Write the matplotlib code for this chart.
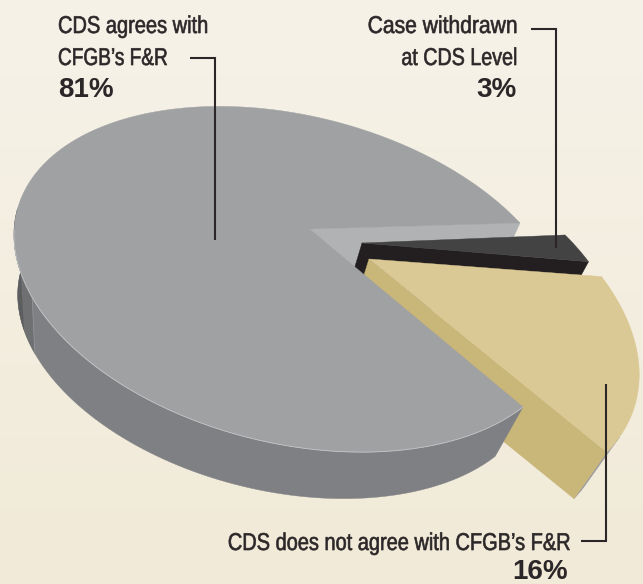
"""Case outcome split at CDS level, drawn as an exploded perspective pie."""
import numpy as np
import matplotlib
matplotlib.use("Agg")
import matplotlib.pyplot as plt
from matplotlib.patches import Polygon
from matplotlib.patheffects import AbstractPathEffect
from matplotlib.transforms import Affine2D

W, H = 643, 584

# shares in percent
share_agree = 81
share_withdrawn = 3
share_disagree = 16

label_agree = ["CDS agrees with", "CFGB\u2019s F&R"]
label_withdrawn = ["Case withdrawn", "at CDS Level"]
label_disagree = ["CDS does not agree with CFGB\u2019s F&R"]
pct_agree = "81%"
pct_withdrawn = "3%"
pct_disagree = "16%"

GAP = 360 * (share_withdrawn + share_disagree) / 100
WITHDRAWN_DEG = 360 * share_withdrawn / 100

# where the rim of the big slice lands on the canvas, for the tilt of the disc
RIM_PX = {
    GAP / 2: (520, 223),
    -GAP / 2: (523, 407),
    180 + GAP / 2: (14, 237.5),
    180 - GAP / 2: (166.5, 110),
}
VANISH = np.array([75.0, 1202.0])   # side walls run toward this point
DEPTH = 0.062

BLACK_TXT = "#2b2728"


class Squeeze(AbstractPathEffect):
    # condensed type: no narrow face installed, so narrow the glyphs around an anchor
    def __init__(self, sx, x0, weight=0.45):
        super().__init__()
        self.sx, self.x0, self.weight = sx, x0, weight

    def draw_path(self, renderer, gc, tpath, affine, rgbFace=None):
        narrow = Affine2D().translate(-self.x0, 0).scale(self.sx, 1).translate(self.x0, 0)
        gc0 = renderer.new_gc()
        gc0.copy_properties(gc)
        gc0.set_linewidth(self.weight)
        gc0.set_foreground(rgbFace)
        renderer.draw_path(gc0, tpath, affine + narrow, rgbFace)
        gc0.restore()


def fit_homography(pairs):
    a, b = [], []
    for (x, y), (u, v) in pairs:
        a.append([x, y, 1, 0, 0, 0, -u * x, -u * y])
        a.append([0, 0, 0, x, y, 1, -v * x, -v * y])
        b += [u, v]
    return np.append(np.linalg.solve(np.array(a, float), np.array(b, float)), 1).reshape(3, 3)


def circ(deg):
    t = np.radians(deg)
    return np.c_[np.cos(t), np.sin(t)]


M = fit_homography([(tuple(circ(k)[0]), v) for k, v in RIM_PX.items()])
M_inv = np.linalg.inv(M)


def project(pts, matrix=M):
    pts = np.atleast_2d(pts)
    q = np.c_[pts, np.ones(len(pts))] @ matrix.T
    return q[:, :2] / q[:, 2:]


def lower(px):
    # same outline pushed down to the underside of the disc
    return px + (VANISH - px) * DEPTH


def rim(center, radius, t1, t2, n=120):
    return project(np.asarray(center) + radius * circ(np.linspace(t1, t2, n)))


def wall(ax, px, color, z):
    ax.add_patch(Polygon(np.vstack([px, lower(px)[::-1]]), closed=True, fc=color,
                         ec=color, lw=0.3, zorder=z))


def top(ax, px, color, z):
    ax.add_patch(Polygon(px, closed=True, fc=color, ec=color, lw=0.3, zorder=z))


def leader(ax, xs, ys):
    ax.plot(xs, ys, color=BLACK_TXT, lw=1.5, solid_joinstyle="miter",
            solid_capstyle="butt", zorder=20)


def label(ax, x, y, s, ha, sx):
    ax.text(x, y, s, ha=ha, va="baseline", color=BLACK_TXT, family="Liberation Sans",
            fontsize=17.5, zorder=21, path_effects=[Squeeze(sx, x)])


fig = plt.figure(figsize=(W / 100, H / 100), dpi=100)
ax = fig.add_axes([0, 0, 1, 1])
ax.set_xlim(0, W)
ax.set_ylim(H, 0)
ax.axis("off")

# paper background, very slightly darker at the foot
shade = np.linspace(0, 1, 256)[:, None, None]
bg = (1 - shade) * np.array([246, 242, 232]) + shade * np.array([241, 234, 216])
ax.imshow(bg / 255, extent=[0, W, H, 0], aspect="auto", zorder=0)

centre = np.zeros(2)
apex = project(centre)[0]

# inner face of the big slice, behind the two pulled-out slices
upper_edge = np.vstack([apex, project(circ(GAP / 2))])
wall(ax, upper_edge, "#b0b2b4", 2)

# withdrawn slice
dark_c = project([[362, 243]], M_inv)[0]
dark_r = 1.003
t_split = GAP / 2 - WITHDRAWN_DEG
dark_rim = rim(dark_c, dark_r, GAP / 2, t_split, 30)
wall(ax, np.vstack([project(dark_c), dark_rim[-1]]), "#231f20", 3)
top(ax, np.vstack([project(dark_c), dark_rim]), "#434343", 4)

# disagree slice
tan_c = project([[369, 259]], M_inv)[0]
tan_r = 1.006
tan_rim = rim(tan_c, tan_r, t_split, -GAP / 2)
wall(ax, tan_rim[-12:], "#9a9b9d", 5)
wall(ax, np.vstack([project(tan_c), tan_rim[-1]]), "#c9b679", 6)
top(ax, np.vstack([project(tan_c), tan_rim]), "#dbc995", 7)

# big slice: outer wall, darker strips at the far left, then the top
front = rim(centre, 1, 205, 360 - GAP / 2, 240)
wall(ax, front, "#7f8083", 8)
wall(ax, rim(centre, 1, 224, 231, 30), "#6f7072", 9)
wall(ax, rim(centre, 1, 205, 224, 30), "#5c5d5f", 9)
seam = rim(centre, 1, 231, 231, 1)
ax.plot(*np.vstack([seam, lower(seam)]).T, color="#94959a", lw=0.6, zorder=9.5)
main_rim = rim(centre, 1, GAP / 2, 360 - GAP / 2, 400)
top(ax, np.vstack([apex, main_rim]), "#9fa1a3", 10)
ax.plot(*rim(centre, 1, 212, 360 - GAP / 2, 200).T, color="#c4c5c6", lw=0.6, zorder=11)

# leader lines
leader(ax, [190, 215, 215], [58, 58, 240])
leader(ax, [531, 556, 556], [29, 29, 248])
leader(ax, [606, 606, 581], [384, 541, 541])

pct = dict(color=BLACK_TXT, family="Liberation Sans", fontweight="bold",
           fontsize=20, va="baseline", zorder=21)

label(ax, 58, 33, label_agree[0], "left", 0.824)
label(ax, 58, 65, label_agree[1], "left", 0.784)
ax.text(58, 97, pct_agree, ha="left", **pct)

label(ax, 517, 33, label_withdrawn[0], "right", 0.867)
label(ax, 517, 65, label_withdrawn[1], "right", 0.81)
ax.text(517, 97, pct_withdrawn, ha="right", **pct)

label(ax, 570, 550, label_disagree[0], "right", 0.822)
ax.text(568, 579, pct_disagree, ha="right", **pct)

fig.savefig("out.png", dpi=100)
